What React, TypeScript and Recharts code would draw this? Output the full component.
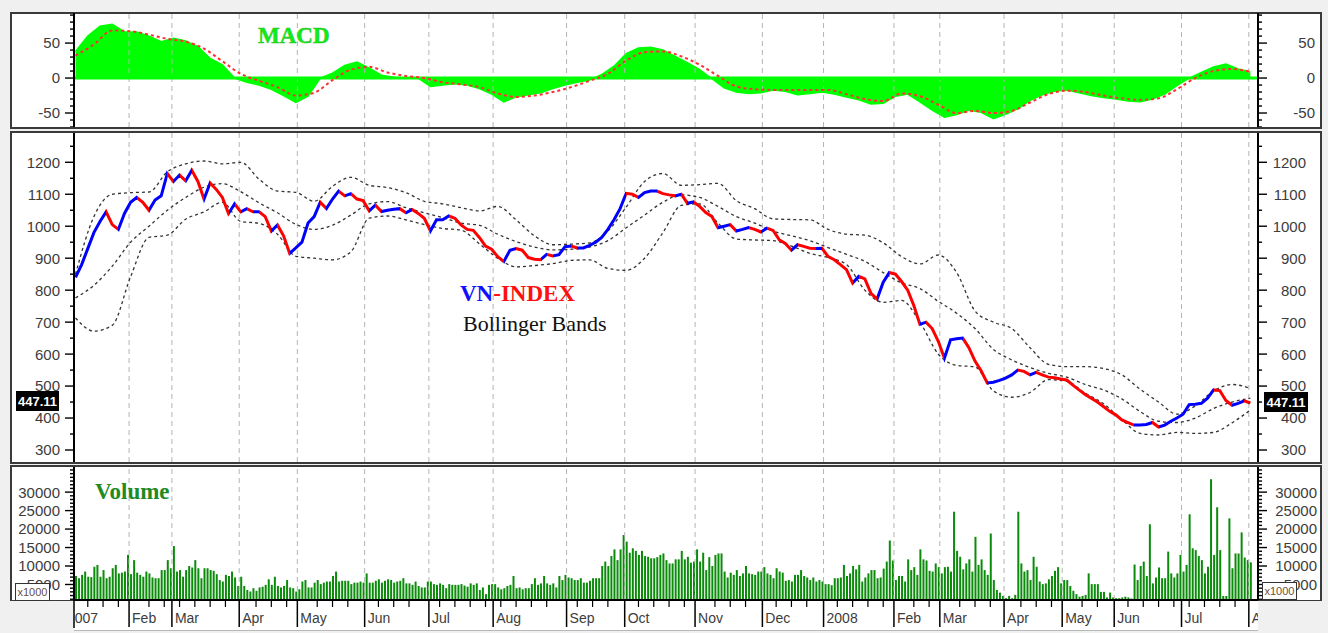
import { Area, Bar, ComposedChart, Line, ReferenceLine, XAxis, YAxis } from 'recharts'

// x axis is the session index (one unit per trading day, Jan 2007 .. Aug 2008)
const X_DOMAIN: [number, number] = [0, 387]
const MARGIN = { top: 0, right: 10, bottom: 0, left: 10 }
const FONT = "'Liberation Sans', Arial, sans-serif"
const SERIF = "'Liberation Serif', 'Times New Roman', serif"

const monthStarts = [18, 32, 54, 73, 95, 116, 137, 161, 180, 203, 225, 245, 268, 283, 304, 323, 340, 362, 384]
const monthLabels = ['Feb', 'Mar', 'Apr', 'May', 'Jun', 'Jul', 'Aug', 'Sep', 'Oct', 'Nov', 'Dec', '2008', 'Feb', 'Mar', 'Apr', 'May', 'Jun', 'Jul', 'Aug']

// VN-INDEX close, every 2nd session
const PRICE_STEP = 2
const priceClose = [
  840, 880, 930, 980, 1015, 1045, 1005, 990, 1040, 1075,
  1090, 1075, 1050, 1082, 1095, 1165, 1140, 1160, 1142, 1175,
  1140, 1085, 1135, 1115, 1090, 1040, 1070, 1045, 1055, 1045,
  1045, 1030, 985, 1004, 970, 915, 932, 950, 1010, 1030,
  1075, 1055, 1085, 1110, 1095, 1102, 1085, 1080, 1048, 1066,
  1046, 1050, 1053, 1055, 1042, 1052, 1040, 1025, 985, 1020,
  1020, 1032, 1025, 1004, 990, 987, 965, 938, 928, 905,
  890, 925, 930, 925, 902, 897, 895, 912, 907, 911,
  936, 938, 932, 932, 940, 950, 965, 990, 1020, 1055,
  1103, 1100, 1090, 1105, 1110, 1110, 1102, 1098, 1095, 1100,
  1072, 1076, 1062, 1043, 1030, 995, 1000, 1005, 985, 990,
  996, 990, 982, 994, 987, 958, 946, 925, 942, 937,
  931, 930, 931, 905, 895, 880, 864, 822, 843, 835,
  790, 772, 825, 855, 850, 827, 800, 752, 693, 700,
  680, 640, 587, 645, 648, 650, 620, 578, 548, 510,
  512, 518, 525, 535, 550, 546, 535, 543, 535, 528,
  526, 522, 519, 503, 488, 474, 462, 450, 436, 421,
  410, 394, 386, 378, 378, 380, 386, 372, 378, 390,
  400, 412, 442, 443, 446, 462, 488, 486, 455, 440,
  446, 454, 447,
]
const lastClose = '447.11'

// Bollinger bands, every 6th session
const BAND_STEP = 6
const bandUpper = [
  850, 1030, 1100, 1105, 1107, 1170, 1195, 1204, 1195, 1200,
  1147, 1110, 1106, 1078, 1125, 1153, 1128, 1121, 1105, 1078,
  1070, 1058, 1048, 1062, 1020, 970, 942, 944, 948, 985,
  1060, 1140, 1165, 1128, 1130, 1134, 1080, 1055, 1023, 1021,
  1020, 990, 975, 972, 948, 905, 882, 910, 855, 735,
  700, 680, 620, 568, 561, 561, 555, 535, 490, 450,
  412, 438, 485, 505, 493,
]
const bandMiddle = [
  776, 815, 875, 950, 1000, 1050, 1090, 1122, 1133, 1108,
  1073, 1042, 1006, 990, 1003, 1035, 1070, 1077, 1058, 1042,
  1027, 1010, 1003, 975, 952, 935, 926, 928, 935, 955,
  995, 1035, 1075, 1098, 1090, 1062, 1030, 1010, 985, 970,
  955, 933, 912, 890, 855, 823, 805, 765, 728, 680,
  615, 582, 558, 540, 528, 505, 488, 460, 420, 390,
  386, 400, 430, 450, 462,
]
const bandLower = [
  713, 672, 690, 842, 965, 972, 1022, 1045, 1075, 1015,
  1009, 975, 906, 900, 895, 920, 1025, 1032, 1020, 1005,
  993, 988, 945, 900, 873, 877, 883, 893, 895, 868,
  862, 900, 980, 1065, 1070, 1010, 960, 957, 955, 938,
  915, 902, 880, 800, 762, 768, 700, 600, 565, 560,
  485, 465, 480, 520, 515, 478, 445, 395, 352, 347,
  355, 352, 355, 385, 425,
]

// MACD every 4th session, signal every 6th
const MACD_STEP = 4
const macdValues = [
  38, 60, 74, 77, 66, 66, 60, 52, 57, 53,
  45, 28, 19, 0, -6, -10, -16, -25, -35, -26,
  0, 7, 18, 23, 14, 4, 1, 0, 0, -12,
  -10, -8, -10, -15, -23, -34, -27, -24, -21, -15,
  -10, -6, -3, 5, 17, 35, 43, 44, 40, 31,
  22, 12, -1, -14, -20, -22, -21, -17, -19, -24,
  -22, -20, -23, -27, -31, -37, -36, -26, -23, -34,
  -46, -56, -52, -46, -49, -58, -52, -44, -32, -24,
  -19, -17, -21, -25, -28, -30, -33, -34, -30, -23,
  -11, 0, 8, 16, 20, 13, 9,
]
const SIGNAL_STEP = 6
const signalValues = [
  32, 48, 68, 67, 62, 56, 52, 42, 24, 6,
  -4, -13, -25, -21, -3, 12, 16, 8, 3, 0,
  -6, -9, -13, -22, -27, -25, -20, -13, -4, 6,
  25, 37, 38, 31, 19, 3, -12, -16, -17, -17,
  -17, -17, -23, -30, -33, -22, -26, -38, -50, -47,
  -50, -47, -35, -23, -18, -20, -25, -29, -31, -29,
  -16, 0, 10, 13, 9,
]

// daily volume (x1000)
const volume2007 = [
  7300, 6700, 7600, 8500, 7100, 7000, 9800, 10300, 7100, 8900,
  6700, 7100, 9400, 10300, 8000, 8200, 8500, 13000, 7800, 11600,
  8200, 7600, 7100, 8500, 8000, 6900, 6700, 6700, 8900, 8900,
  11600, 9400, 15400, 8500, 8900, 7100, 8900, 10000, 9600, 11600,
  9400, 6700, 9400, 9400, 8900, 8700, 7800, 6200, 5800, 7600,
  7300, 8500, 6900, 4600, 7100, 4600, 3500, 3100, 4000, 3300,
  4200, 4400, 4900, 6400, 4900, 7100, 4600, 4200, 4600, 6200,
  4200, 4000, 3100, 3700, 5800, 6200, 4200, 4200, 5500, 6200,
  5100, 5500, 5800, 5800, 7300, 8500, 5800, 6000, 6000, 6000,
  5100, 5500, 5500, 5800, 5500, 8000, 5500, 5500, 6000, 6400,
  5500, 6000, 6400, 6200, 5500, 5800, 6000, 6700, 5300, 5300,
  4900, 5800, 4600, 4200, 4200, 5800, 5800, 5100, 4900, 5300,
  4900, 4000, 5100, 4900, 4900, 4900, 5100, 4700, 4400, 5300,
  4900, 5300, 3500, 4200, 2400, 4900, 5100, 5100, 4200, 3700,
  4000, 4600, 4900, 7300, 4000, 4200, 3700, 4000, 4000, 5100,
  6700, 4900, 5300, 7300, 5300, 4900, 5300, 4200, 7300, 6200,
  7600, 6900, 6700, 6200, 6200, 6700, 5500, 5500, 6000, 6700,
  6700, 6700, 10000, 11200, 10000, 12700, 14500, 11600, 14500, 18400,
  16600, 13600, 14800, 14100, 13000, 14100, 12700, 12500, 12100, 12100,
  12400, 13000, 13400, 11600, 10700, 10700, 11800, 11800, 14100, 11800,
  12500, 10900, 11200, 14500, 11200, 13600, 8900, 12400, 10000, 13000,
  13400, 13400, 8500, 6900, 8200, 7600, 8900, 7300, 8000, 10000,
  8000, 7800, 7600, 8500, 8500, 9700, 8000, 7600, 6700, 9400,
  8500, 8200, 6000, 6200, 5800, 7600, 7600, 8900, 7300, 6900,
  6200, 6900, 5800, 6200, 5800,
]
const volume2008 = [
  5100, 5100, 4800, 6700, 6700, 6900, 10300, 7300, 8000, 10000,
  9100, 10300, 5800, 6900, 8000, 8900, 8900, 6700, 6900, 9300,
  11200, 16900, 11500, 6200, 7300, 7300, 5800, 11800, 8900, 9700,
  7600, 14500, 11800, 11500, 8700, 8500, 10700, 9700, 8000, 9700,
  9800, 8500, 24700, 14100, 12500, 9100, 10700, 11800, 8500, 17900,
  10300, 11800, 8900, 7600, 18800, 6200, 3500, 2800, 1900, 1300,
  1900, 1300, 2200, 24700, 10700, 8500, 8900, 6200, 12500, 9800,
  5800, 5100, 5300, 6400, 7300, 8700, 9700, 5300, 6200, 6200,
  4600, 3300, 2400, 1700, 1900, 2200, 8000, 5100, 5100, 5100,
  3000, 3000, 1500, 2800, 1500, 1300, 1300, 1500, 1700, 1500,
  1200, 10400, 6200, 10000, 11200, 7300, 21300, 5300, 6900, 9600,
  6700, 6700, 13900, 8000, 6900, 8000, 13000, 8500, 10300, 24000,
  14800, 14300, 12700, 11600, 8000, 9800, 33500, 13000, 25900, 14300,
  1900, 1900, 22900, 9400, 13400, 13400, 19100, 12300, 11600, 11000,
]

const macdLabels = [-50, 0, 50]
const priceLabels = [300, 400, 500, 600, 700, 800, 900, 1000, 1100, 1200]
const volumeLabels = [5000, 10000, 15000, 20000, 25000, 30000]

const MACD_DOMAIN: [number, number] = [-70, 93]
const PRICE_DOMAIN: [number, number] = [262.5, 1291.6]
const VOLUME_DOMAIN: [number, number] = [800, 36800]

const UP = '#0000ff'
const DOWN = '#ff0000'

type Pt = { x: number; v: number }
const toSeries = (values: number[], step: number): Pt[] =>
  values.map((v, i) => ({ x: i * step + 0.5, v }))

const range = (from: number, to: number, step: number) => {
  const out: number[] = []
  for (let v = from; v <= to + 1e-9; v += step) out.push(v)
  return out
}

const pricePts = toSeries(priceClose, PRICE_STEP)
const upperPts = toSeries(bandUpper, BAND_STEP)
const middlePts = toSeries(bandMiddle, BAND_STEP)
const lowerPts = toSeries(bandLower, BAND_STEP)
const macdPts = toSeries(macdValues, MACD_STEP)
const signalPts = toSeries(signalValues, SIGNAL_STEP)
const volumePts = toSeries([...volume2007, ...volume2008], 1)

const macdTicks = range(-70, 90, 10)
const priceTicks = range(300, 1250, 50)
const volumeTicks = range(1000, 36000, 1000)
const weekTicks = range(4.5, 383, 5).filter((t) => monthStarts.every((m) => Math.abs(m - t) > 1.6))

function makeYTick(labels: number[], side: 'left' | 'right', labelEnd: number) {
  return function YTick(props: any) {
    const { x, y, payload } = props
    const major = labels.includes(payload.value)
    const dir = side === 'left' ? -1 : 1
    const len = major ? 9 : 4
    return (
      <g>
        <line x1={x} x2={x + dir * len} y1={y} y2={y} stroke="#000" strokeWidth={1.4} />
        {major && (
          <text
            x={labelEnd}
            y={y}
            dy="0.36em"
            textAnchor="end"
            fontFamily={FONT}
            fontSize={15}
            fill="#3c3c3c"
          >
            {payload.value}
          </text>
        )}
      </g>
    )
  }
}

function XTick(props: any) {
  const { x, y, payload } = props
  const idx = monthStarts.indexOf(payload.value)
  if (idx < 0) return <line x1={x} x2={x} y1={y} y2={y + 7} stroke="#000" strokeWidth={1.2} />
  return (
    <g>
      <line x1={x} x2={x} y1={y} y2={y + 27} stroke="#000" strokeWidth={1.5} />
      <text x={x + 3} y={y + 23} fontFamily={FONT} fontSize={14} fill="#3c3c3c">
        {monthLabels[idx]}
      </text>
    </g>
  )
}

function yAxes(domain: [number, number], ticks: number[], labels: number[], rightEnd: number) {
  const axisLine = { stroke: '#000', strokeWidth: 2 }
  return [
    <YAxis
      key="L"
      yAxisId="L"
      orientation="left"
      width={64}
      type="number"
      domain={domain}
      allowDataOverflow
      ticks={ticks}
      interval={0}
      tick={makeYTick(labels, 'left', 60)}
      tickLine={false}
      tickSize={0}
      tickMargin={0}
      axisLine={axisLine}
    />,
    <YAxis
      key="R"
      yAxisId="R"
      orientation="right"
      width={60}
      type="number"
      domain={domain}
      allowDataOverflow
      ticks={ticks}
      interval={0}
      tick={makeYTick(labels, 'right', rightEnd)}
      tickLine={false}
      tickSize={0}
      tickMargin={0}
      axisLine={axisLine}
    />,
  ]
}

const gridLines = () =>
  monthStarts.map((m) => (
    <ReferenceLine key={`g${m}`} x={m} yAxisId="L" stroke="#b4b4b4" strokeDasharray="5 4" strokeWidth={1} />
  ))

function priceGradientStops() {
  const n = priceClose.length
  const stops: JSX.Element[] = []
  for (let i = 0; i < n - 1; i++) {
    const c = priceClose[i + 1] >= priceClose[i] ? UP : DOWN
    stops.push(<stop key={`a${i}`} offset={i / (n - 1)} stopColor={c} />)
    stops.push(<stop key={`b${i}`} offset={(i + 1) / (n - 1)} stopColor={c} />)
  }
  return stops
}

const hiddenX = <XAxis type="number" dataKey="x" domain={X_DOMAIN} allowDataOverflow hide />

const panelBox = (top: number, height: number) => ({
  position: 'absolute' as const,
  left: 10,
  top,
  width: 1312,
  height,
  boxSizing: 'border-box' as const,
  background: '#fff',
  border: '2px solid #3a3a3a',
})

export default function App() {
  const bandStyle = { stroke: '#333', strokeWidth: 1.3, strokeDasharray: '3 3' }
  return (
    <div style={{ position: 'absolute', left: 0, top: 0, width: 1328, height: 633, background: '#f0f0f0', overflow: 'hidden' }}>
      <div style={panelBox(12, 117)} />
      <div style={panelBox(131, 333)} />
      <div style={panelBox(465, 137)} />
      <div style={{ position: 'absolute', left: 74, top: 601, width: 1184, height: 29, background: '#fff', borderBottom: '1px solid #b8b8b8' }} />

      <div style={{ position: 'absolute', left: 0, top: 13 }}>
        <ComposedChart width={1328} height={114} margin={MARGIN}>
          {hiddenX}
          {yAxes(MACD_DOMAIN, macdTicks, macdLabels, 1315)}
          {gridLines()}
          <ReferenceLine y={0} yAxisId="L" stroke="#00ff00" strokeWidth={3} />
          <Area
            data={macdPts}
            dataKey="v"
            yAxisId="L"
            type="linear"
            baseValue={0}
            stroke="#00ff00"
            strokeWidth={1.5}
            fill="#00ff00"
            fillOpacity={1}
            dot={false}
            activeDot={false}
            isAnimationActive={false}
          />
          <Line
            data={signalPts}
            dataKey="v"
            yAxisId="L"
            type="monotone"
            stroke="#ff3030"
            strokeWidth={2}
            strokeDasharray="3 3"
            dot={false}
            activeDot={false}
            isAnimationActive={false}
          />
        </ComposedChart>
      </div>

      <div style={{ position: 'absolute', left: 0, top: 133 }}>
        <ComposedChart width={1328} height={329} margin={MARGIN}>
          <defs>
            <linearGradient id="updown" x1="0" y1="0" x2="1" y2="0">
              {priceGradientStops()}
            </linearGradient>
          </defs>
          {hiddenX}
          {yAxes(PRICE_DOMAIN, priceTicks, priceLabels, 1306)}
          {gridLines()}
          <Line data={upperPts} dataKey="v" yAxisId="L" type="monotone" {...bandStyle} dot={false} activeDot={false} isAnimationActive={false} />
          <Line data={middlePts} dataKey="v" yAxisId="L" type="monotone" {...bandStyle} dot={false} activeDot={false} isAnimationActive={false} />
          <Line data={lowerPts} dataKey="v" yAxisId="L" type="monotone" {...bandStyle} dot={false} activeDot={false} isAnimationActive={false} />
          <Line
            data={pricePts}
            dataKey="v"
            yAxisId="L"
            type="linear"
            stroke="url(#updown)"
            strokeWidth={3}
            dot={false}
            activeDot={false}
            isAnimationActive={false}
          />
        </ComposedChart>
      </div>

      <div style={{ position: 'absolute', left: 0, top: 467 }}>
        <ComposedChart width={1328} height={163} margin={MARGIN} data={volumePts}>
          <XAxis
            type="number"
            dataKey="x"
            domain={X_DOMAIN}
            allowDataOverflow
            height={30}
            ticks={[...monthStarts, ...weekTicks]}
            interval={0}
            tick={XTick}
            tickLine={false}
            tickSize={0}
            tickMargin={0}
            axisLine={{ stroke: '#000', strokeWidth: 2 }}
          />
          {yAxes(VOLUME_DOMAIN, volumeTicks, volumeLabels, 1317)}
          {gridLines()}
          <Bar dataKey="v" yAxisId="L" fill="#0a8c0a" barSize={2} isAnimationActive={false} />
        </ComposedChart>
      </div>

      <svg width={1328} height={633} style={{ position: 'absolute', left: 0, top: 0, pointerEvents: 'none' }}>
        <text x={67} y={623} fontFamily={FONT} fontSize={14} fill="#3c3c3c">2007</text>
        <rect x={0} y={601} width={74} height={32} fill="#f0f0f0" />
        <rect x={1258} y={601} width={70} height={32} fill="#f0f0f0" />
        <line x1={74} x2={74} y1={600} y2={628} stroke="#000" strokeWidth={1.5} />

        <text x={258} y={42.5} fontFamily={SERIF} fontWeight="bold" fontSize={23} fill="#10ee10" stroke="#2fb52f" strokeWidth={0.4}>
          MACD
        </text>
        <text x={460} y={301} fontFamily={SERIF} fontWeight="bold" fontSize={23}>
          <tspan fill="#1010ff">VN</tspan>
          <tspan fill="#ff1010">-INDEX</tspan>
        </text>
        <text x={463} y={331} fontFamily={SERIF} fontSize={22} fill="#111">
          Bollinger Bands
        </text>
        <text x={95} y={499} fontFamily={SERIF} fontWeight="bold" fontSize={23} fill="#228a1e">
          Volume
        </text>

        <rect x={16} y={391} width={43} height={20} fill="#000" />
        <text x={37.5} y={406} textAnchor="middle" fontFamily={FONT} fontWeight="bold" fontSize={13} fill="#fff">
          {lastClose}
        </text>
        <rect x={1264} y={392} width={44} height={20} fill="#000" />
        <text x={1286} y={407} textAnchor="middle" fontFamily={FONT} fontWeight="bold" fontSize={13} fill="#fff">
          {lastClose}
        </text>

        <rect x={15.5} y={583.5} width={34} height={17} fill="#fff" stroke="#333" strokeWidth={1} />
        <text x={32.5} y={596} textAnchor="middle" fontFamily={FONT} fontSize={11} fill="#6a5040">x1000</text>
        <rect x={1262.5} y={582.5} width={34} height={17} fill="#fff" stroke="#333" strokeWidth={1} />
        <text x={1279.5} y={595} textAnchor="middle" fontFamily={FONT} fontSize={11} fill="#6a5040">x1000</text>
      </svg>
    </div>
  )
}
